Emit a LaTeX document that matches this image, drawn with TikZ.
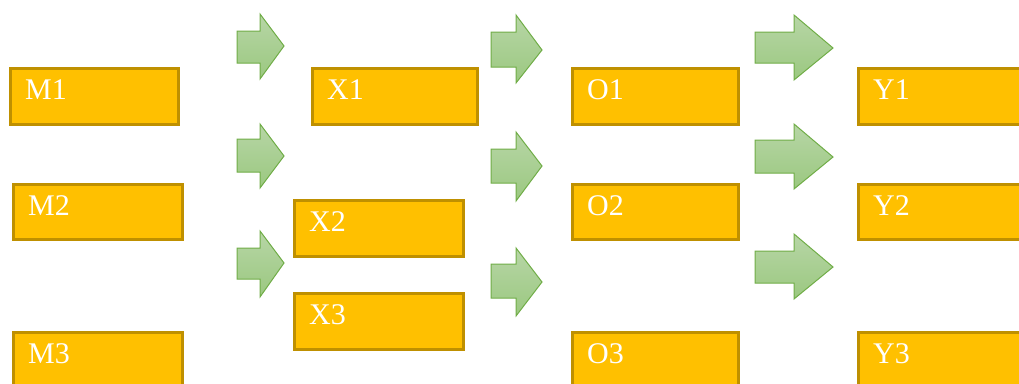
\documentclass[tikz,border=0pt]{standalone}
\usepackage{fontspec}
\setmainfont{Liberation Serif}
\definecolor{boxfill}{RGB}{255,192,0}
\definecolor{boxline}{RGB}{191,144,0}
\definecolor{arrline}{RGB}{112,173,71}
\definecolor{arrtop}{RGB}{183,214,166}
\definecolor{arrbot}{RGB}{155,200,128}
\tikzset{
  box/.style={draw=boxline, fill=boxfill, line width=3pt, rectangle, inner sep=0pt, outer sep=0pt, anchor=north west},
  lbl/.style={text=white, font=\fontsize{30}{36}\selectfont, inner sep=0pt, anchor=base west},
  garrow/.style={draw=arrline, line width=1pt, top color=arrtop, bottom color=arrbot, line join=miter}
}
\newcommand\blockarr[8]{%
  \path[garrow] (#1,#6) -- (#2,#6) -- (#2,#4) -- (#3,#8) -- (#2,#5) -- (#2,#7) -- (#1,#7) -- cycle;}
% \mybox{name}{x0}{y0}{x1}{y1}{text}
\newcommand\mybox[6]{%
  \node[box, minimum width={(#4-#2-3)*1pt}, minimum height={(#5-#3-3)*1pt}] (#1) at ({#2+1.5},{#3+1.5}) {};
  \node[lbl] (#1t) at ({#2+16},{#3+32}) {#6};}
\begin{document}
\begin{tikzpicture}[x=1pt,y=-1pt]
\useasboundingbox (0,0) rectangle (1019,383);
\clip (0,0) rectangle (1019,383);
\mybox{m1}{9}{67}{180}{126}{M1}
\mybox{m2}{12}{183}{184}{241}{M2}
\mybox{m3}{12}{331}{184}{392}{M3}
\mybox{x1}{311}{67}{479}{126}{X1}
\mybox{x2}{293}{199}{465}{258}{X2}
\mybox{x3}{293}{292}{465}{351}{X3}
\mybox{o1}{571}{67}{740}{126}{O1}
\mybox{o2}{571}{183}{740}{241}{O2}
\mybox{o3}{571}{331}{740}{392}{O3}
\mybox{y1}{857}{67}{1032}{126}{Y1}
\mybox{y2}{857}{183}{1032}{241}{Y2}
\mybox{y3}{857}{331}{1032}{392}{Y3}
\blockarr{237}{260}{284}{14}{79}{31}{63}{46}
\blockarr{237}{260}{284}{124}{188}{139}{172}{156}
\blockarr{237}{260}{284}{231}{297}{248}{279}{263}
\blockarr{491}{516}{542}{15}{83}{32}{67}{50}
\blockarr{491}{516}{542}{132}{201}{149}{183}{166}
\blockarr{491}{516}{542}{248}{316}{264}{298}{282}
\blockarr{755}{794}{833}{15}{80}{32}{63}{48}
\blockarr{755}{794}{833}{124}{189}{140}{173}{157}
\blockarr{755}{794}{833}{234}{299}{251}{283}{267}
\end{tikzpicture}
\end{document}
